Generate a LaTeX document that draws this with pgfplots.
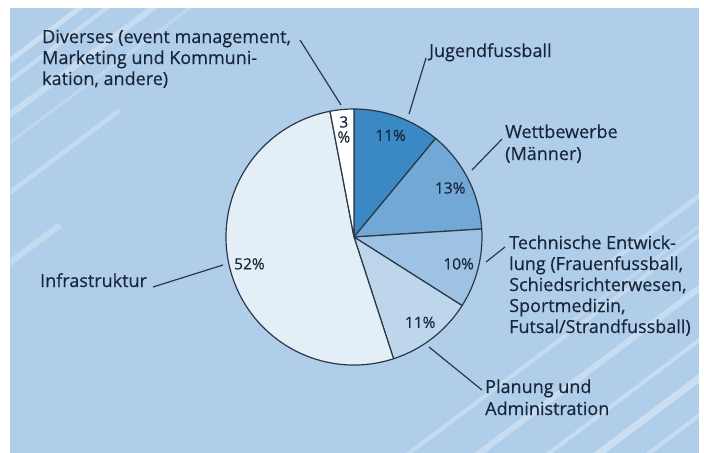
\documentclass[border=0pt]{standalone}
\usepackage{pgfplots}
\usepackage{pgfplotstable}
\pgfplotsset{compat=1.18}
\usepackage{fontspec}
\setmainfont{Open Sans}
\newfontfamily\lblfam[FakeBold=0.35]{Open Sans}
\definecolor{bg}{HTML}{B0CEEA}
\definecolor{cJ}{HTML}{3A88C4}
\definecolor{cW}{HTML}{72A8D6}
\definecolor{cT}{HTML}{9DC2E3}
\definecolor{cP}{HTML}{BED6EC}
\definecolor{cI}{HTML}{E3EEF7}
\definecolor{cD}{HTML}{FFFFFF}
\definecolor{txt}{HTML}{18263A}
\definecolor{edge}{HTML}{2A3848}

\pgfplotstableread{
value col
11 cJ
13 cW
10 cT
11 cP
52 cI
3  cD
}\piedata

\newcommand\lblfont{\lblfam\fontsize{18bp}{21bp}\selectfont}
\newcommand\pctfont{\lblfam\fontsize{15.5bp}{18bp}\selectfont}

\begin{document}
\begin{tikzpicture}
\begin{axis}[
  x=1bp, y=1bp, y dir=reverse,
  xmin=0, xmax=704, ymin=0, ymax=453,
  hide axis, clip=false, scale only axis,
  anchor=origin, at={(0,0)},
]
% frame and background
\path (axis cs:0,0) rectangle (axis cs:704,453);
\fill[bg] (axis cs:10,8) rectangle (axis cs:699,453);
\begin{scope}
\clip (axis cs:10,8) rectangle (axis cs:699,453);
\draw[white, opacity=0.35, line width=5bp] (axis cs:0,68) -- (axis cs:85,4);
\draw[white, opacity=0.30, line width=4bp] (axis cs:0,88) -- (axis cs:112,4);
\draw[white, opacity=0.30, line width=6bp] (axis cs:0,122) -- (axis cs:158,4);
\draw[white, opacity=0.20, line width=3bp] (axis cs:0,150) -- (axis cs:195,4);
\draw[white, opacity=0.25, line width=5bp] (axis cs:0,200) -- (axis cs:120,110);
\draw[white, opacity=0.25, line width=6bp] (axis cs:0,270) -- (axis cs:60,225);
\draw[white, opacity=0.30, line width=6bp] (axis cs:470,460) -- (axis cs:710,280);
\draw[white, opacity=0.30, line width=4bp] (axis cs:540,460) -- (axis cs:710,332);
\draw[white, opacity=0.35, line width=7bp] (axis cs:590,460) -- (axis cs:710,370);
\draw[white, opacity=0.30, line width=4bp] (axis cs:640,460) -- (axis cs:710,407);
\draw[white, opacity=0.25, line width=4bp] (axis cs:400,460) -- (axis cs:710,227);
\draw[white, opacity=0.25, line width=5bp] (axis cs:600,270) -- (axis cs:710,188);
\draw[white, opacity=0.20, line width=3bp] (axis cs:560,330) -- (axis cs:710,218);
\end{scope}
% pie slices from the data
\def\cum{0}
\pgfplotsforeachungrouped \i in {0,...,5}{%
  \pgfplotstablegetelem{\i}{value}\of\piedata \edef\v{\pgfplotsretval}%
  \pgfplotstablegetelem{\i}{col}\of\piedata \edef\c{\pgfplotsretval}%
  \pgfmathsetmacro\sa{90-3.6*\cum}%
  \pgfmathsetmacro\ea{90-3.6*(\cum+\v)}%
  \pgfmathsetmacro\ma{(\sa+\ea)/2}%
  \edef\temp{\noexpand\filldraw[fill=\c, draw=edge, line width=1.2bp, line join=round]
    (axis cs:354,237) -- ++(\sa:128bp) arc[start angle=\sa, end angle=\ea, radius=128bp] -- cycle;
    \noexpand\node[text=txt, font=\noexpand\pctfont, inner sep=0pt, align=center]
    at ([shift={(\ma:108bp)}]axis cs:354,237)
    {\ifnum\v<5 \v\noexpand\\[-3bp]\noexpand\%\else\v\noexpand\%\fi};}%
  \temp
  \pgfmathsetmacro\cum{\cum+\v}%
}
% leader lines
\draw[edge, line width=1.2bp] (axis cs:300,40) -- (axis cs:341,105);
\draw[edge, line width=1.2bp] (axis cs:426,58) -- (axis cs:409,114);
\draw[edge, line width=1.2bp] (axis cs:502,139) -- (axis cs:472,170);
\draw[edge, line width=1.2bp] (axis cs:505,247) -- (axis cs:486,262);
\draw[edge, line width=1.2bp] (axis cs:482,390) -- (axis cs:429,347);
\draw[edge, line width=1.2bp] (axis cs:153,287) -- (axis cs:223,265);
% labels
\begin{scope}[every node/.style={text=txt, font=\lblfont, inner sep=0pt, anchor=base west}]
\node at (axis cs:42,43) {Diverses (event management,};
\node at (axis cs:42,64) {Marketing und Kommuni-};
\node at (axis cs:42,85) {kation, andere)};
\node at (axis cs:429,57) {Jugendfussball};
\node at (axis cs:505,138) {Wettbewerbe};
\node at (axis cs:505,160) {(Männer)};
\node at (axis cs:509,249) {Technische Entwick-};
\node at (axis cs:509,270) {lung (Frauenfussball,};
\node at (axis cs:509,291) {Schiedsrichterwesen,};
\node at (axis cs:509,312) {Sportmedizin,};
\node at (axis cs:509,333) {Futsal/Strandfussball)};
\node at (axis cs:40,287) {Infrastruktur};
\node at (axis cs:485,393) {Planung und};
\node at (axis cs:485,415) {Administration};
\end{scope}
\end{axis}
\end{tikzpicture}
\end{document}
